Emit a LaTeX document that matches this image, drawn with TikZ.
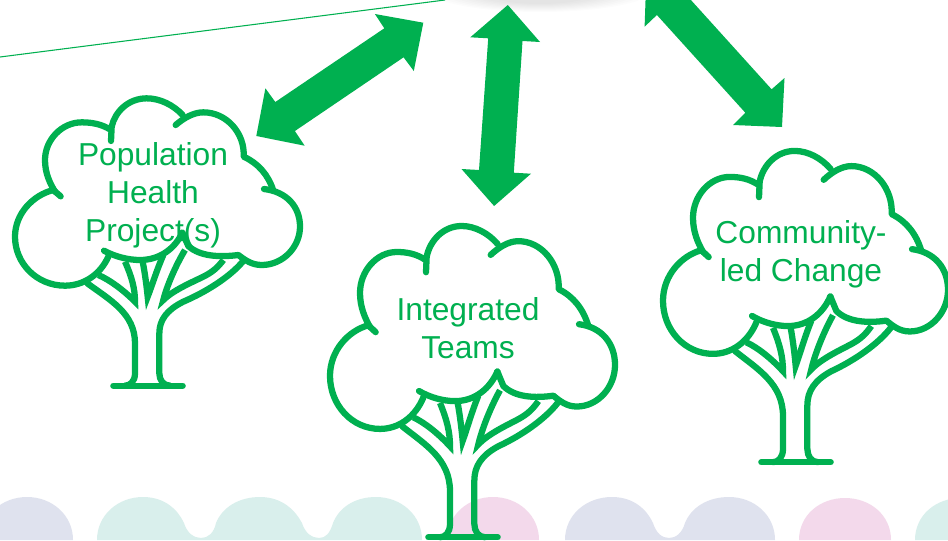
\documentclass[tikz,border=0pt]{standalone}
\usepackage{fontspec}
\setmainfont{Liberation Sans}
\definecolor{gr}{HTML}{00B050}
\definecolor{lil}{HTML}{DFE2EE}
\definecolor{tea}{HTML}{D9EFEC}
\definecolor{pnk}{HTML}{F3D9EB}
\newcommand{\treeshape}{%
 % crown
 \draw[treeline] (182,349) -- (160,330) .. controls (100,345) and (45,400) .. (45,470)
   .. controls (45,550) and (110,617) .. (195,617) .. controls (250,617) and (300,585) .. (325,530);
 \draw[treeline] (165,335) .. controls (150,310) and (135,280) .. (135,240)
   .. controls (135,180) and (185,127) .. (245,127) .. controls (275,127) and (305,132) .. (333,150);
 \draw[treeline] (333,183) -- (335,140) .. controls (345,95) and (385,55) .. (440,55)
   .. controls (480,55) and (520,75) .. (548,105);
 \draw[treeline] (527,135) .. controls (550,115) and (580,97) .. (610,97)
   .. controls (680,97) and (735,160) .. (731,230) .. controls (775,250) and (805,285) .. (820,332);
 \draw[treeline] (792,327) .. controls (860,335) and (900,380) .. (900,440)
   .. controls (900,500) and (850,555) .. (785,555) .. controls (755,555) and (735,540) .. (715,525)
   .. controls (660,532) and (600,530) .. (565,498) -- (547,458);
 \draw[treeline] (312,512) .. controls (345,530) and (385,540) .. (420,540)
   .. controls (480,540) and (525,505) .. (547,458);
 % trunk
 \draw[treeline] (262,610) .. controls (330,660) and (405,700) .. (405,790) -- (405,880)
   .. controls (405,905) and (390,917) .. (375,917);
 \draw[treeline] (510,917) .. controls (490,917) and (478,900) .. (478,880) -- (478,760)
   .. controls (478,720) and (500,690) .. (550,665) .. controls (620,635) and (690,590) .. (728,545);
 \draw[treeline] (340,917) -- (548,917);
 % branches
 \draw[treeline,miter limit=10,line cap=butt,line join=miter] (295,585) .. controls (330,600) and (370,630) .. (405,665)
   .. controls (405,625) and (395,590) .. (375,545);
 \draw[treeline,miter limit=10,line cap=butt,line join=miter] (428,545) .. controls (435,580) and (440,620) .. (443,650)
   .. controls (455,620) and (470,570) .. (490,525);
 \draw[treeline,miter limit=10,line cap=butt,line join=miter] (555,510) .. controls (525,560) and (500,620) .. (490,660)
   .. controls (520,630) and (580,605) .. (610,590) .. controls (640,575) and (655,560) .. (670,540);
}
\tikzset{
  treeline/.style={draw=gr,line width=4.7pt,line cap=round,line join=round},
  blockarrow/.style={fill=gr,draw=none},
  treelabel/.style={text=gr,align=center,inner sep=0pt,font=\fontsize{23.8}{28.5}\selectfont},
  treescope/.style={x=.25pt,y=-.25pt},
  tallscope/.style={x=.25pt,y=-.2708pt}
}
\begin{document}
\begin{tikzpicture}[x=.75pt,y=-.75pt]
\useasboundingbox (0,0) rectangle (948,540);
\clip (0,0) rectangle (948,540);
\fill[white] (0,0) rectangle (948,540);
% background bumps
\fill[lil] (-19,540) .. controls (-19,515) and (2,497) .. (27,497) .. controls (52,497) and (73,515) .. (73,540) -- cycle;
\fill[tea] (97,540) .. controls (97,515) and (118,497) .. (143,497) .. controls (165,497) and (178,510) .. (184,523)
  .. controls (187,533) and (194,538) .. (201,538) .. controls (208,538) and (214,533) .. (216,523)
  .. controls (222,508) and (238,497) .. (260,497) .. controls (282,497) and (295,510) .. (302,523)
  .. controls (305,533) and (312,538) .. (319,538) .. controls (326,538) and (330,533) .. (333,523)
  .. controls (339,508) and (354,497) .. (376,497) .. controls (401,497) and (422,515) .. (422,540) -- cycle;
\fill[pnk] (447,540) .. controls (447,515) and (468,497) .. (493,497) .. controls (518,497) and (539,515) .. (539,540) -- cycle;
\fill[lil] (565,540) .. controls (565,515) and (586,497) .. (612,497) .. controls (634,497) and (647,510) .. (653,523)
  .. controls (656,533) and (662,538) .. (669,538) .. controls (676,538) and (682,533) .. (685,523)
  .. controls (691,508) and (707,497) .. (729,497) .. controls (754,497) and (775,515) .. (775,540) -- cycle;
\fill[pnk] (799,540) .. controls (799,515) and (820,498) .. (845,498) .. controls (870,498) and (891,515) .. (891,540) -- cycle;
\fill[tea] (915,540) .. controls (915,515) and (936,498) .. (961,498) .. controls (986,498) and (1007,515) .. (1007,540) -- cycle;
% top shadow
\foreach \w/\h in {112/22,106/21,100/20,94/19,88/18,82/17,76/16,70/15,60/14}
  \fill[black,opacity=.012] (540,-10) ellipse [x radius=\w, y radius=\h];
% thin line
\coordinate (lineA) at (0,57);
\coordinate (lineB) at (445,0);
\draw[gr,line width=.8pt] (lineA) -- (lineB);
% arrows
\fill[blockarrow] (423.3,22.7) -- (374.9,14) -- (384.3,28.3) -- (275.3,102) -- (265.4,88.3) -- (256.3,136)
  -- (304.7,145.7) -- (294.9,131) -- (403.6,57.3) -- (413.8,71) -- cycle;
\fill[blockarrow] (507.8,5) -- (470.3,37.3) -- (488.2,38.3) -- (479,170) -- (461.5,169) -- (494.1,206)
  -- (531,173.7) -- (513.8,172.7) -- (522.5,41) -- (540,42) -- cycle;
\fill[blockarrow] (644.6,26.7) -- (656.9,15) -- (745.3,112.7) -- (733,125) -- (782,127) -- (784.5,78)
  -- (771.6,89.3) -- (690.9,0) -- (645.7,-5) -- cycle;
% trees
\begin{scope}[shift={(0pt,-60pt)},treescope] \treeshape \end{scope}
\begin{scope}[shift={(236.25pt,-154.6pt)},tallscope] \treeshape \end{scope}
\begin{scope}[shift={(486pt,-98.3pt)},tallscope] \treeshape \end{scope}
% labels
\node[treelabel] (t1) at (153,195) {Population\\Health\\Project(s)};
\node[treelabel] (t2) at (468,328) {Integrated\\Teams};
\node[treelabel] (t3) at (801,254) {Community-\\led Change};
\end{tikzpicture}
\end{document}
